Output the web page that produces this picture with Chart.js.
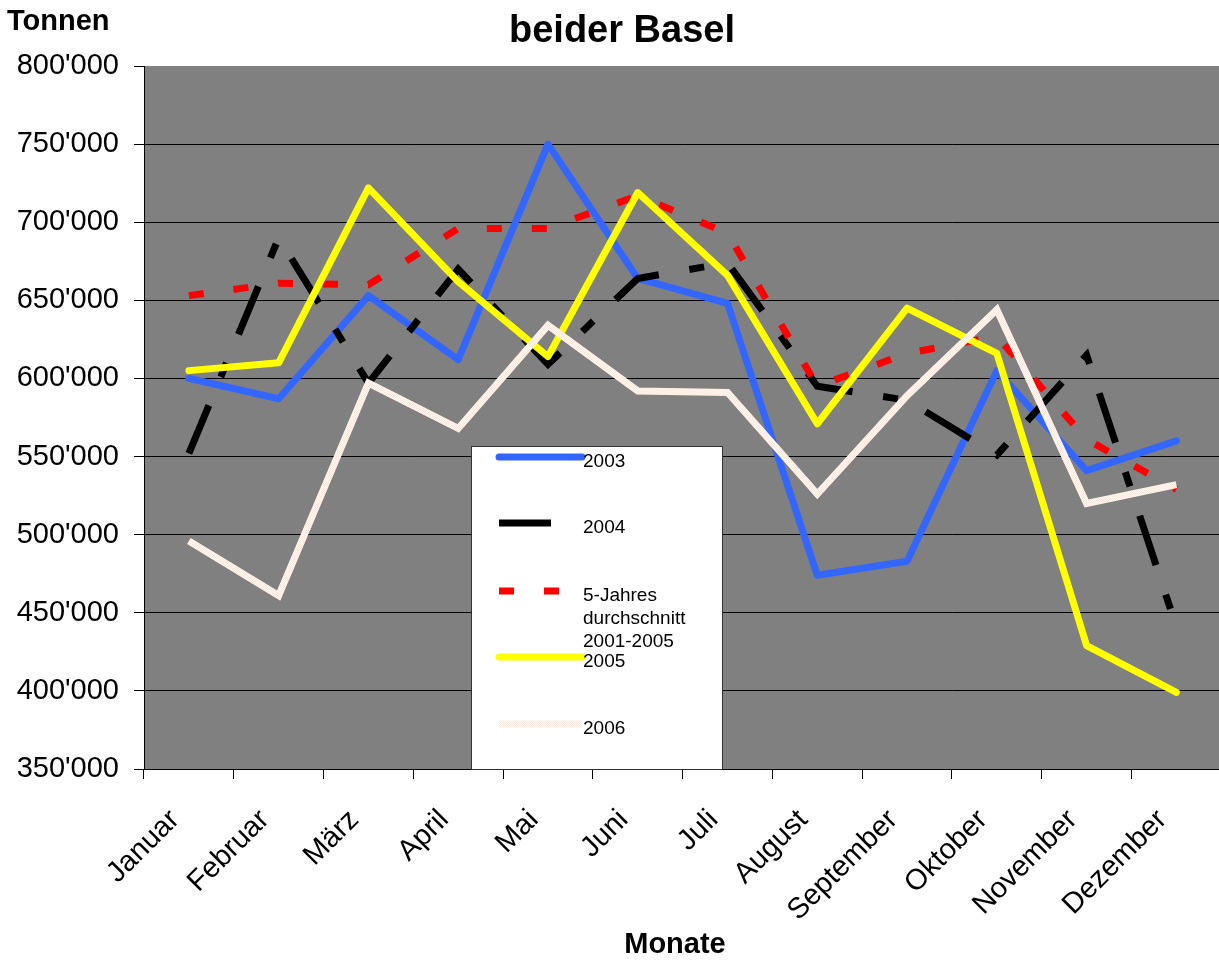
<!DOCTYPE html>
<html lang="de">
<head>
    <meta charset="UTF-8">
    <title>beider Basel</title>
    <script src="https://cdn.jsdelivr.net/npm/chart.js"></script>
    <style>
        html, body { margin: 0; padding: 0; background: #fff; overflow: hidden; }
        #wrap { width: 1225px; height: 962px; }
    </style>
</head>
<body>
    <div id="wrap"><canvas id="tonnenChart"></canvas></div>

    <script>
        const months = ['Januar', 'Februar', 'März', 'April', 'Mai', 'Juni', 'Juli',
                        'August', 'September', 'Oktober', 'November', 'Dezember'];

        const values2003 = [600000, 587000, 653000, 612000, 750000, 664000, 648000, 474000, 483000, 605000, 541000, 560000];
        const values2004 = [552000, 690000, 597000, 670000, 609000, 664000, 674000, 595000, 586000, 551000, 615000, 441000];
        const valuesAvg  = [653000, 661000, 660000, 696000, 696000, 717000, 693000, 595000, 616000, 627000, 561000, 529000];
        const values2005 = [605000, 610000, 722000, 662000, 614000, 719000, 666000, 571000, 645000, 616000, 429000, 399000];
        const values2006 = [496000, 461000, 597000, 568000, 634000, 592000, 591000, 526000, 589000, 644000, 520000, 532000];

        const seriesLabels = ['2003', '2004', ['5-Jahres', 'durchschnitt', '2001-2005'], '2005', '2006'];

        const yTicks = { min: 350000, max: 800000, step: 50000 };

        const FONT = "'Liberation Sans', Arial, sans-serif";

        // pale hatched colour used for 2006
        function palePattern() {
            const c = document.createElement('canvas');
            c.width = 2; c.height = 2;
            const g = c.getContext('2d');
            g.fillStyle = '#fffaf6';
            g.fillRect(0, 0, 2, 2);
            g.fillStyle = '#fbe9df';
            g.fillRect(0, 0, 1, 1);
            g.fillRect(1, 1, 1, 1);
            return g.createPattern(c, 'repeat');
        }

        function fmt(v) {
            return String(v).replace(/\B(?=(\d{3})+(?!\d))/g, "'");
        }

        const plotBackground = {
            id: 'plotBackground',
            beforeDraw(chart) {
                const { ctx, chartArea: a } = chart;
                ctx.save();
                ctx.fillStyle = '#808080';
                ctx.fillRect(a.left, a.top, a.right - a.left, a.bottom - a.top);
                ctx.restore();
            }
        };

        const textBits = {
            id: 'textBits',
            afterDraw(chart) {
                const ctx = chart.ctx;
                ctx.save();
                ctx.fillStyle = '#000';
                ctx.textBaseline = 'alphabetic';
                ctx.font = 'bold 29px ' + FONT;
                ctx.textAlign = 'left';
                ctx.fillText('Tonnen', 7, 30);
                ctx.textAlign = 'center';
                ctx.fillText('Monate', 675, 953);
                ctx.font = 'bold 38px ' + FONT;
                ctx.fillText('beider Basel', 622, 42);
                ctx.restore();
            }
        };

        const boxLegend = {
            id: 'boxLegend',
            afterDatasetsDraw(chart) {
                const { ctx, chartArea: a } = chart;
                const left = a.left + 327, top = a.top + 380;
                const right = a.left + 578, bottom = a.bottom;
                ctx.save();
                ctx.fillStyle = '#fff';
                ctx.fillRect(left, top, right - left, bottom - top);
                ctx.strokeStyle = '#333';
                ctx.lineWidth = 1;
                ctx.strokeRect(left + 0.5, top + 0.5, right - left, bottom - top);

                const rowY = [457, 523, 591, 657, 724];
                chart.data.datasets.forEach((ds, i) => {
                    const y = rowY[i];
                    ctx.beginPath();
                    ctx.strokeStyle = ds.borderColor;
                    ctx.lineWidth = ds.borderWidth;
                    ctx.lineCap = ds.borderCapStyle || 'butt';
                    ctx.setLineDash(ds.borderDash || []);
                    ctx.moveTo(a.left + 355, y);
                    ctx.lineTo(a.left + 438, y);
                    ctx.stroke();
                    ctx.setLineDash([]);

                    ctx.fillStyle = '#000';
                    ctx.font = '19px ' + FONT;
                    ctx.textAlign = 'left';
                    ctx.textBaseline = 'middle';
                    const lines = Array.isArray(seriesLabels[i]) ? seriesLabels[i] : [seriesLabels[i]];
                    lines.forEach((t, k) => ctx.fillText(t, a.left + 439, y + 5 + k * 23));
                });
                ctx.restore();
            }
        };

        const ctx = document.getElementById('tonnenChart').getContext('2d');
        new Chart(ctx, {
            type: 'line',
            data: {
                labels: months,
                datasets: [
                    { label: '2003', data: values2003, borderColor: '#3366ff', borderWidth: 7, borderCapStyle: 'round', borderJoinStyle: 'round', order: 5 },
                    { label: '2004', data: values2004, borderColor: '#000000', borderWidth: 7, borderDash: [52, 31, 15, 31], order: 4 },
                    { label: '5-Jahres durchschnitt 2001-2005', data: valuesAvg, borderColor: '#ff0000', borderWidth: 7, borderDash: [15, 30], order: 3 },
                    { label: '2005', data: values2005, borderColor: '#ffff00', borderWidth: 7, borderCapStyle: 'round', borderJoinStyle: 'round', order: 2 },
                    { label: '2006', data: values2006, borderColor: palePattern(), borderWidth: 7, order: 1 }
                ]
            },
            options: {
                responsive: true,
                maintainAspectRatio: false,
                animation: false,
                layout: { padding: { top: 66, left: 0, right: 0, bottom: 0 } },
                elements: {
                    line: { tension: 0, fill: false },
                    point: { radius: 0, hoverRadius: 0 }
                },
                plugins: {
                    legend: { display: false },
                    title: { display: false },
                    tooltip: { enabled: false }
                },
                scales: {
                    x: {
                        offset: true,
                        afterFit: s => { s.height = 193; },
                        grid: {
                            offset: true,
                            drawOnChartArea: false,
                            tickLength: 10,
                            tickColor: '#000'
                        },
                        border: { color: '#000', width: 1 },
                        ticks: {
                            color: '#000',
                            font: { family: FONT, size: 29 },
                            maxRotation: 45,
                            minRotation: 45,
                            autoSkip: false,
                            labelOffset: -14,
                            padding: 24
                        }
                    },
                    y: {
                        min: yTicks.min,
                        max: yTicks.max,
                        afterFit: s => { s.width = 144; },
                        grid: {
                            color: c => (c.tick && c.tick.value === yTicks.max ? 'rgba(0,0,0,0)' : '#000'),
                            tickColor: '#000',
                            tickLength: 10,
                            lineWidth: 1
                        },
                        border: { color: '#000', width: 1 },
                        ticks: {
                            stepSize: yTicks.step,
                            color: '#000',
                            font: { family: FONT, size: 29 },
                            padding: 15,
                            callback: v => fmt(v)
                        }
                    }
                }
            },
            plugins: [plotBackground, boxLegend, textBits]
        });
    </script>
</body>
</html>
